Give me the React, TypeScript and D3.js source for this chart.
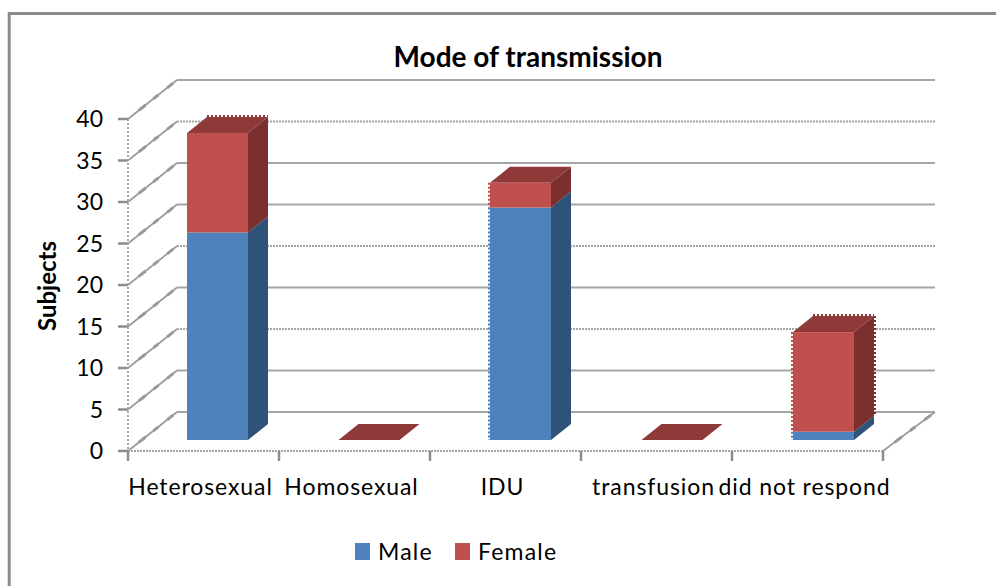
import React from "react";
import * as d3 from "d3";

const categories = ["Heterosexual", "Homosexual", "IDU", "transfusion", "did not respond"];
const male = [25, 0, 28, 0, 1];
const female = [12, 0, 3, 0, 12];
const yTicks = [0, 5, 10, 15, 20, 25, 30, 35, 40];
const dottedTicks = [10, 20, 35];
const title = "Mode of transmission";
const yTitle = "Subjects";
const legendNames = ["Male", "Female"];

const maleColors = { front: "#4f81bd", side: "#2f5279", top: "#3a6595" };
const femaleColors = { front: "#c0504d", side: "#7a302e", top: "#8f3a38" };
const gridColor = "#a6a6a6";

const x = d3.scaleBand<number>().domain(d3.range(categories.length)).range([128, 883]);
const barX = d3.scaleLinear().domain([0, 4]).range([187, 793]);
const y = d3.scaleLinear().domain([0, 40]).range([451, 119]);
const DX = 49;
const DY = 39;
const barW = 61;
const barDX = 20;
const barDY = 16;
const barBaseDrop = 11;
const yb = (v: number) => y(v) - barBaseDrop;

function pts(p: number[][]) {
  return p.map((q) => q.join(",")).join(" ");
}

function Box({ x0, v0, v1, c, drawTop }: { x0: number; v0: number; v1: number; c: typeof maleColors; drawTop: boolean }) {
  const t = yb(v1);
  const b = yb(v0);
  const x1 = x0 + barW;
  return (
    <g>
      <polygon points={pts([[x1, t], [x1 + barDX, t - barDY], [x1 + barDX, b - barDY], [x1, b]])} fill={c.side} />
      {drawTop && <polygon points={pts([[x0, t], [x0 + barDX, t - barDY], [x1 + barDX, t - barDY], [x1, t]])} fill={c.top} />}
      <rect x={x0} y={t} width={barW} height={b - t} fill={c.front} />
    </g>
  );
}

function Jag({ i }: { i: number }) {
  const x0 = barX(i);
  const x1 = x0 + barW;
  const total = male[i] + female[i];
  const t = yb(total);
  const b = yb(0);
  const common = { strokeWidth: 2, strokeDasharray: "2 2", fill: "none" };
  return (
    <g>
      {i !== 0 && <line x1={x0 - 1} x2={x0 - 1} y1={t} y2={yb(male[i])} stroke={femaleColors.front} {...common} />}
      {i !== 0 && <line x1={x0 - 1} x2={x0 - 1} y1={yb(male[i])} y2={b} stroke={maleColors.front} {...common} />}
      {i !== 2 && <line x1={x0 + barDX} x2={x1 + barDX} y1={t - barDY - 1} y2={t - barDY - 1} stroke={femaleColors.top} {...common} />}
      {i === 4 && <line x1={x1 + barDX + 1} x2={x1 + barDX + 1} y1={t - barDY} y2={yb(male[i]) - barDY} stroke={femaleColors.side} {...common} />}
    </g>
  );
}

function Diagonal({ x1, y1, x2, y2 }: { x1: number; y1: number; x2: number; y2: number }) {
  const seg = (a: number, b: number) => ({
    x1: x1 + (x2 - x1) * a,
    y1: y1 + (y2 - y1) * a,
    x2: x1 + (x2 - x1) * b,
    y2: y1 + (y2 - y1) * b,
  });
  return (
    <g stroke="#9a9a9a">
      <line {...seg(0, 1)} strokeWidth={1.7} />
      <line {...seg(0.22, 0.36)} strokeWidth={3} />
      <line {...seg(0.52, 0.62)} strokeWidth={3} />
      <line {...seg(0.8, 0.92)} strokeWidth={3} />
    </g>
  );
}

export default function App() {
  const font = "Lato, Carlito, 'Open Sans', sans-serif";
  const backRight = 935;
  const [xL, xR] = x.range();
  return (
    <svg width={996} height={586} style={{ position: "absolute", left: 0, top: 0, background: "#fff" }} fontFamily={font}>
      <path d="M9.2,586 V13.5 H996" fill="none" stroke="#8c8c8c" strokeWidth={3} />

      {/* back wall gridlines and side wall diagonals */}
      {yTicks.map((t) => (
        <g key={t} fill="none">
          <line
            x1={xL + DX}
            x2={backRight}
            y1={y(t) - DY}
            y2={y(t) - DY}
            stroke={gridColor}
            strokeWidth={2}
            strokeDasharray={dottedTicks.includes(t) ? "2 1" : undefined}
          />
          <Diagonal x1={xL} y1={y(t)} x2={xL + DX} y2={y(t) - DY} />
          <line x1={118} x2={xL} y1={y(t)} y2={y(t)} strokeWidth={2.5} stroke="#8c8c8c" />
        </g>
      ))}
      <line x1={xL} x2={xL} y1={y(40)} y2={y(0)} stroke="#a6a6a6" strokeWidth={2} strokeDasharray="2 2" />
      <line x1={xL} x2={xR} y1={y(0)} y2={y(0)} stroke="#a6a6a6" strokeWidth={2} strokeDasharray="2 1" />
      <Diagonal x1={xR} y1={y(0)} x2={backRight} y2={y(0) - DY} />
      {d3.range(categories.length + 1).map((i) => {
        const px = i < categories.length ? (x(i) as number) : xR;
        return <line key={i} x1={px} x2={px} y1={y(0)} y2={y(0) + 10} stroke="#8c8c8c" strokeWidth={2.5} />;
      })}

      {/* bars */}
      {categories.map((cat, i) => {
        const x0 = barX(i);
        const m = male[i];
        const f = female[i];
        return (
          <g key={cat}>
            {m + f > 0 && <Jag i={i} />}
            {m > 0 && <Box x0={x0} v0={0} v1={m} c={maleColors} drawTop={false} />}
            <Box x0={x0} v0={m} v1={m + f} c={femaleColors} drawTop={true} />
          </g>
        );
      })}

      {/* y axis labels */}
      {yTicks.map((t) => (
        <text key={t} x={103} y={y(t)} dy="0.35em" textAnchor="end" fontSize={23}>{t}</text>
      ))}
      <text transform={`translate(48,286) rotate(-90)`} textAnchor="middle" dy="0.35em" fontSize={24} fontWeight={700}>{yTitle}</text>

      {/* category labels */}
      {categories.map((cat, i) => (
        <text key={cat} x={(x(i) as number) + x.bandwidth() / 2 - 3} y={495} textAnchor="middle" fontSize={23} letterSpacing={0.9}>{cat}</text>
      ))}

      <text x={528} y={67} textAnchor="middle" fontSize={28} fontWeight={700}>{title}</text>

      {/* legend */}
      {legendNames.map((n, i) => {
        const lx = [355, 455][i];
        return (
          <g key={n}>
            <rect x={lx} y={543} width={15} height={17} fill={i === 0 ? maleColors.front : femaleColors.front} />
            <text x={lx + 23} y={560} fontSize={23} letterSpacing={1.2}>{n}</text>
          </g>
        );
      })}
    </svg>
  );
}
